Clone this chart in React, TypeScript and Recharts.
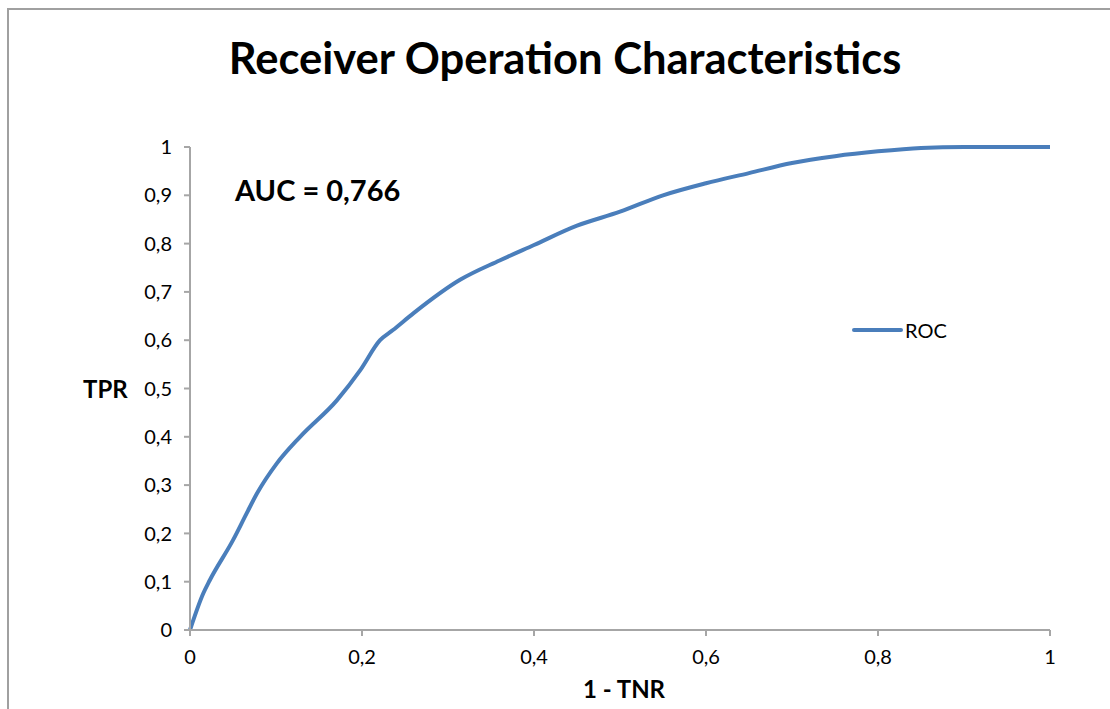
import { LineChart, Line, XAxis, YAxis } from 'recharts';

// false positive rate (1 - TNR)
const fpr = [
  0, 0.0155, 0.023, 0.05, 0.066, 0.078, 0.101, 0.128, 0.171, 0.198, 0.221,
  0.236, 0.26, 0.314, 0.36, 0.4, 0.45, 0.5, 0.55, 0.6, 0.65, 0.7, 0.75, 0.8,
  0.85, 0.9, 1,
];
// true positive rate
const tpr = [
  0, 0.076, 0.103, 0.186, 0.242, 0.283, 0.345, 0.4, 0.476, 0.538, 0.6, 0.621,
  0.656, 0.725, 0.765, 0.797, 0.837, 0.866, 0.9, 0.925, 0.946, 0.967, 0.981,
  0.991, 0.998, 1, 1,
];
const xTicks = [0, 0.2, 0.4, 0.6, 0.8, 1];
const yTicks = [0, 0.1, 0.2, 0.3, 0.4, 0.5, 0.6, 0.7, 0.8, 0.9, 1];

const data = fpr.map((x, i) => ({ fpr: x, ROC: tpr[i] }));

const font = 'Lato, "Open Sans", sans-serif';
const axisGray = '#a6a6a6';
const blue = '#4a7ebb';

const fmt = (v: number) => String(v).replace('.', ',');

export default function App() {
  return (
    <div style={{ position: 'absolute', left: 0, top: 0, width: 1110, height: 709, background: '#fff', fontFamily: font }}>
      <div
        style={{
          position: 'absolute',
          left: 7,
          top: 8,
          width: 1110,
          height: 709,
          borderTop: '2px solid #a0a0a0',
          borderLeft: '2px solid #a0a0a0',
          boxSizing: 'border-box',
        }}
      />
      <div style={{ position: 'absolute', left: 0, width: 1130, top: 31, textAlign: 'center', fontSize: 43.5, fontWeight: 700 }}>
        Receiver Operation Characteristics
      </div>
      <div style={{ position: 'absolute', left: 235, top: 172, fontSize: 29, fontWeight: 700 }}>AUC = 0,766</div>
      <div style={{ position: 'absolute', left: 83, top: 374, fontSize: 24, fontWeight: 700 }}>TPR</div>
      <div style={{ position: 'absolute', left: 0, width: 1248, top: 674, textAlign: 'center', fontSize: 24, fontWeight: 700 }}>
        1 - TNR
      </div>
      {/* series key */}
      <div style={{ position: 'absolute', left: 851, top: 318, display: 'flex', alignItems: 'center' }}>
        <svg width={52} height={10}>
          <line x1={3} y1={5} x2={50} y2={5} stroke={blue} strokeWidth={4} strokeLinecap="round" />
        </svg>
        <span style={{ fontSize: 20, color: '#000', marginLeft: 2 }}>ROC</span>
      </div>
      <LineChart
        width={1110}
        height={709}
        data={data}
        margin={{ top: 147, right: 60, bottom: 39, left: 130 }}
        style={{ position: 'absolute', left: 0, top: 0 }}
      >
        <XAxis
          dataKey="fpr"
          type="number"
          domain={[0, 1]}
          ticks={xTicks}
          tickFormatter={fmt}
          stroke={axisGray}
          strokeWidth={2}
          tickSize={6}
          tickMargin={14}
          height={40}
          tick={{ fill: '#000', fontSize: 20, fontFamily: font }}
        />
        <YAxis
          type="number"
          domain={[0, 1]}
          ticks={yTicks}
          tickFormatter={fmt}
          stroke={axisGray}
          strokeWidth={2}
          tickSize={6}
          tickMargin={12}
          width={60}
          tick={{ fill: '#000', fontSize: 20, fontFamily: font }}
        />
        <Line
          dataKey="ROC"
          type="monotone"
          stroke={blue}
          strokeWidth={4}
          dot={false}
          isAnimationActive={false}
        />
      </LineChart>
    </div>
  );
}
